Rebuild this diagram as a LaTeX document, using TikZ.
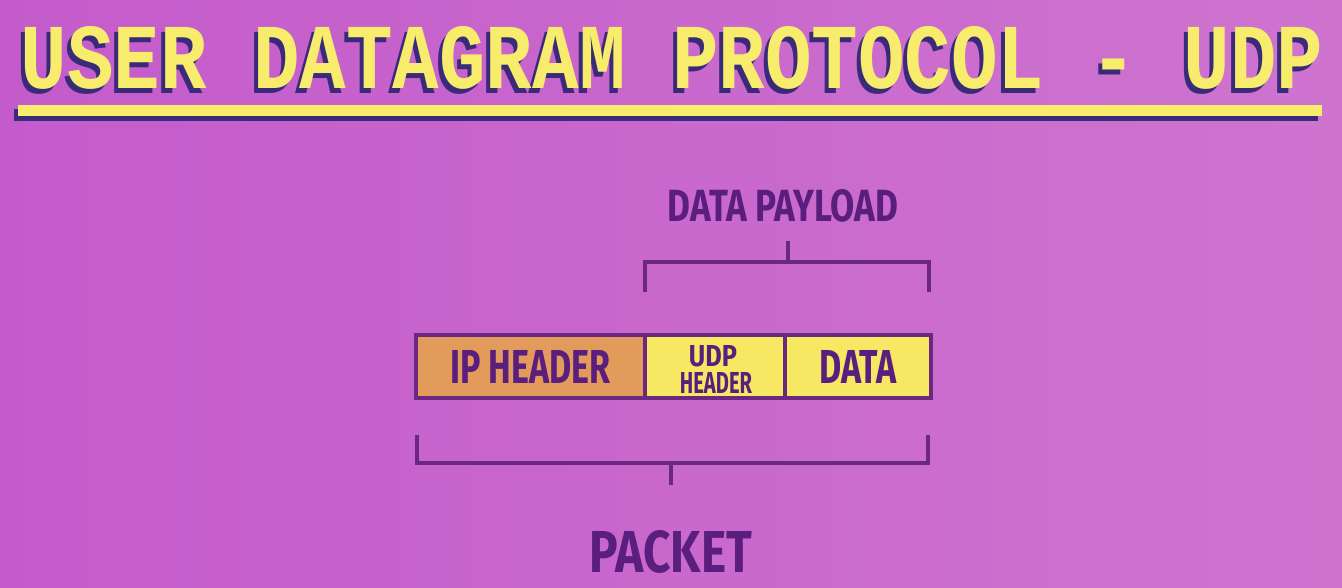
\documentclass[tikz,border=0pt]{standalone}
\usepackage{fontspec}
\setmainfont{Fira Sans}
\newfontfamily\titlefont{Liberation Mono}
\newfontfamily\condfont{Fira Sans}
\definecolor{bgL}{HTML}{C45BCB}
\definecolor{bgR}{HTML}{CE74CF}
\definecolor{ttlY}{HTML}{F7EC6C}
\definecolor{shad}{HTML}{3A2A7A}
\definecolor{ink}{HTML}{5A1F7E}
\definecolor{brk}{HTML}{6B2880}
\definecolor{ipc}{HTML}{E29B5A}
\definecolor{ylc}{HTML}{F6E862}
\newlength{\pxu}\setlength{\pxu}{0.01cm}
\tikzset{
  lbl/.style={inner sep=0pt, outer sep=0pt, text=ink},
  cell/.style={draw=brk, line width=4\pxu, inner sep=0pt, outer sep=0pt, minimum height=63\pxu},
  brace/.style={draw=brk, line width=4\pxu},
}
\begin{document}
\begin{tikzpicture}[x=0.01cm,y=-0.01cm]
\useasboundingbox (0,0) rectangle (1342,588);
\shade[left color=bgL, right color=bgR] (0,0) rectangle (1342,588);
% title
\node[inner sep=0pt, anchor=south west, text=shad] (tshadow) at (16,95)
  {\resizebox{13.02cm}{0.62cm}{\titlefont\bfseries USER DATAGRAM PROTOCOL - UDP}};
\node[inner sep=0pt, anchor=south west, text=ttlY] (title) at (20,90)
  {\resizebox{13.02cm}{0.62cm}{\titlefont\bfseries USER DATAGRAM PROTOCOL - UDP}};
% underline bar
\fill[shad] (14,109) rectangle (1318,121);
\fill[ttlY] (18,105) rectangle (1322,116);
% packet cells
\node[cell, fill=ipc, minimum width=229\pxu, anchor=north west] (ip) at (416,335) {};
\node[cell, fill=ylc, minimum width=140\pxu, anchor=north west] (udp) at (ip.north east) {};
\node[cell, fill=ylc, minimum width=146\pxu, anchor=north west] (data) at (udp.north east) {};
\node[lbl] (iplbl) at (ip.center) {\resizebox{1.60cm}{0.33cm}{\condfont\bfseries IP HEADER}};
\node[lbl, anchor=north] (udplbl1) at (713,345) {\resizebox{0.48cm}{0.21cm}{\condfont\bfseries UDP}};
\node[lbl, anchor=north] (udplbl2) at (716,372) {\resizebox{0.72cm}{0.21cm}{\condfont\bfseries HEADER}};
\node[lbl] (datalbl) at (data.center) {\resizebox{0.77cm}{0.33cm}{\condfont\bfseries DATA}};
% data payload brace
\coordinate (pl) at (645,292);
\coordinate (pr) at (929,292);
\coordinate (pt) at (788,241);
\draw[brace] (pl) |- (788,262) -| (pr);
\draw[brace] (pt) -- (788,262);
\node[lbl] (payload) at (783,206) {\resizebox{2.30cm}{0.32cm}{\condfont\bfseries DATA PAYLOAD}};
% packet brace
\coordinate (kl) at (417,435);
\coordinate (kr) at (928,435);
\coordinate (kt) at (671,485);
\draw[brace] (kl) |- (671,463) -| (kr);
\draw[brace] (kt) -- (671,463);
\node[lbl] (packet) at (671,552) {\resizebox{1.62cm}{0.42cm}{\condfont\bfseries PACKET}};
\end{tikzpicture}
\end{document}
